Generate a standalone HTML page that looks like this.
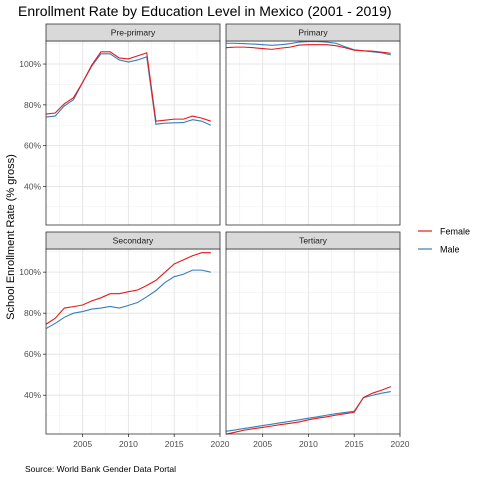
<!DOCTYPE html>
<html><head><meta charset="utf-8"><style>
body{margin:0;background:#fff;}
svg{display:block;font-family:"Liberation Sans",Arial,sans-serif;}
</style></head><body>
<svg id="chart" width="480" height="480" viewBox="0 0 480 480">
<rect width="480" height="480" fill="#fff"/>
<text x="18" y="16" font-size="14" fill="#000">Enrollment Rate by Education Level in Mexico (2001 - 2019)</text>
<text transform="translate(14,237) rotate(-90)" text-anchor="middle" font-size="11" fill="#000">School Enrollment Rate (% gross)</text>
<text x="25" y="472" font-size="8.5" fill="#000">Source: World Bank Gender Data Portal</text>
<g>
<line x1="418" y1="231" x2="432" y2="231" stroke="#e41a1c" stroke-width="1.2"/>
<text x="440" y="234.5" font-size="9">Female</text>
<line x1="418" y1="249" x2="432" y2="249" stroke="#377eb8" stroke-width="1.2"/>
<text x="440" y="252.5" font-size="9">Male</text>
</g>
<g id="panels"></g>
</svg>
<script>
const years = [2001,2002,2003,2004,2005,2006,2007,2008,2009,2010,2011,2012,2013,2014,2015,2016,2017,2018,2019];
const panelNames = ["Pre-primary","Primary","Secondary","Tertiary"];
const prePrimaryFemale = [75.5,76,80.5,83.5,91,99.5,106,106,103,102.5,104,105.5,72,72.5,73,73,74.5,73.5,72];
const prePrimaryMale = [74,74.5,79.5,82.5,91,99,105,105,102,101,102,103.5,70.5,71,71.2,71.3,72.7,72,70];
const primaryFemale = [108,108.3,108.3,108,107.6,107.2,107.8,108.3,109.3,109.5,109.5,109.5,109,108,106.8,106.5,106.3,105.8,105.3];
const primaryMale = [110.2,110.2,110,109.8,109.5,109.2,109.5,110,110.8,111,111,110.8,110.2,108.5,107,106.5,106,105.5,104.5];
const secondaryFemale = [74.6,77.5,82.5,83.2,84,86,87.5,89.5,89.5,90.5,91.3,93.5,96,100,104,106,108,109.5,109.5];
const secondaryMale = [72.5,75,78,80,80.8,82,82.5,83.3,82.5,83.8,85.2,88,91,95,97.8,99,101,101,100];
const tertiaryFemale = [21,22,23,23.7,24.3,25,25.7,26.3,27,28,28.8,29.5,30.3,31,31.7,38.9,41,42.5,44.2];
const tertiaryMale = [22.4,23.1,23.8,24.5,25.2,25.9,26.6,27.3,28,28.8,29.5,30.3,31,31.6,32.2,38.8,40,41,41.8];
const xTicks = [2005,2010,2015,2020];
const xMinor = [2002.5,2007.5,2012.5,2017.5];
const yTicks = [40,60,80,100];
const yMinor = [30,50,70,90,110];
const yTickLabels = ["40%","60%","80%","100%"];

const NS="http://www.w3.org/2000/svg";
const root=document.getElementById('panels');
function mk(tag,attrs,parent){const e=document.createElementNS(NS,tag);for(const k in attrs)e.setAttribute(k,attrs[k]);parent.appendChild(e);return e;}
const femaleSeries=[prePrimaryFemale,primaryFemale,secondaryFemale,tertiaryFemale];
const maleSeries=[prePrimaryMale,primaryMale,secondaryMale,tertiaryMale];
const layout=[{x0:46,x1:220,y0:41,y1:225,sy:24},{x0:226,x1:400,y0:41,y1:225,sy:24},{x0:46,x1:220,y0:249,y1:434,sy:232},{x0:226,x1:400,y0:249,y1:434,sy:232}];
const yMin=21.1,yMax=111.3,xMin=2001,xMax=2020;
layout.forEach((L,i)=>{
  const g=mk('g',{},root);
  
  
  const X=v=>L.x0+(v-xMin)/(xMax-xMin)*(L.x1-L.x0);
  const Y=v=>L.y1-(v-yMin)/(yMax-yMin)*(L.y1-L.y0);
  mk('rect',{x:L.x0,y:L.y0,width:L.x1-L.x0,height:L.y1-L.y0,fill:'#fff'},g);
  yMinor.forEach(v=>mk('line',{x1:L.x0,x2:L.x1,y1:Y(v),y2:Y(v),stroke:'#f0f0f0','stroke-width':0.6},g));
  xMinor.forEach(v=>mk('line',{x1:X(v),x2:X(v),y1:L.y0,y2:L.y1,stroke:'#f0f0f0','stroke-width':0.6},g));
  yTicks.forEach(v=>mk('line',{x1:L.x0,x2:L.x1,y1:Y(v),y2:Y(v),stroke:'#e6e6e6','stroke-width':1},g));
  xTicks.forEach(v=>mk('line',{x1:X(v),x2:X(v),y1:L.y0,y2:L.y1,stroke:'#e6e6e6','stroke-width':1},g));
  [[maleSeries[i],'#377eb8','male'],[femaleSeries[i],'#e41a1c','female']].forEach(([arr,c,n])=>{
    const p=mk('polyline',{points:arr.map((v,j)=>X(years[j])+','+Y(v)).join(' '),fill:'none',stroke:c,'stroke-width':1.1},g);
    
    
  });
  mk('rect',{x:L.x0,y:L.y0,width:L.x1-L.x0,height:L.y1-L.y0,fill:'none',stroke:'#333','stroke-width':0.8},g);
  const s=mk('rect',{x:L.x0,y:L.sy,width:L.x1-L.x0,height:L.y0-L.sy,fill:'#d9d9d9',stroke:'#333','stroke-width':0.8},g);
  
  
  const st=mk('text',{x:(L.x0+L.x1)/2,y:L.sy+11.5,'text-anchor':'middle','font-size':8.5,fill:'#1a1a1a'},g);
  st.textContent=panelNames[i];
  if(i%2===0){
    yTicks.forEach((v,k)=>{
      mk('line',{x1:L.x0-3,x2:L.x0,y1:Y(v),y2:Y(v),stroke:'#333','stroke-width':0.8},g);
      const t=mk('text',{x:L.x0-5,y:Y(v)+3,'text-anchor':'end','font-size':8.5,fill:'#4d4d4d'},g);
      
      
      t.textContent=yTickLabels[k];
    });
  }
  if(i>=2){
    xTicks.forEach(v=>{
      mk('line',{x1:X(v),x2:X(v),y1:L.y1,y2:L.y1+3,stroke:'#333','stroke-width':0.8},g);
      const t=mk('text',{x:X(v),y:L.y1+13,'text-anchor':'middle','font-size':8.5,fill:'#4d4d4d'},g);
      
      
      t.textContent=v;
    });
  }
});
</script>
</body></html>
